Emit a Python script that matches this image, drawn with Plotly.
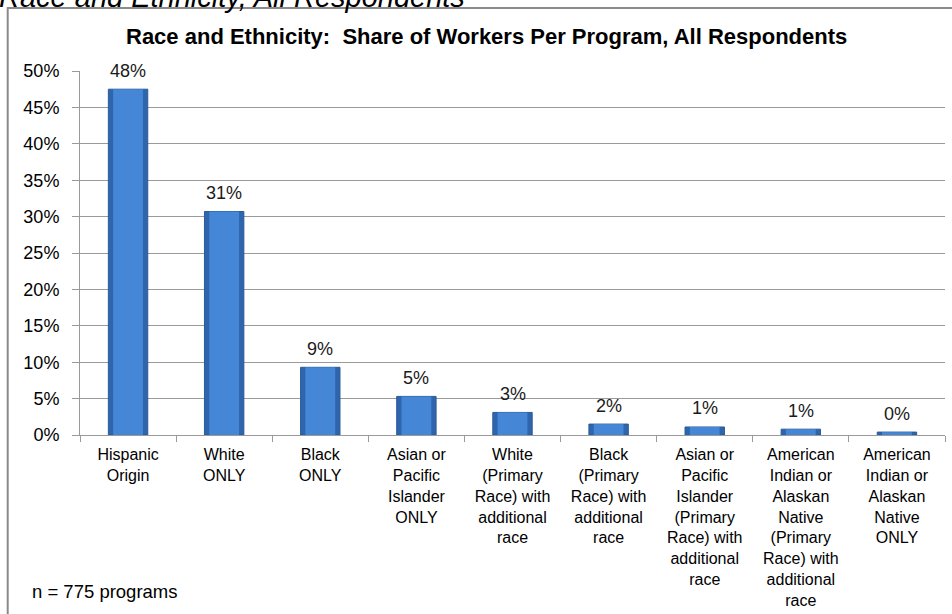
import plotly.graph_objects as go

categories = [
    "Hispanic<br>Origin",
    "White<br>ONLY",
    "Black<br>ONLY",
    "Asian or<br>Pacific<br>Islander<br>ONLY",
    "White<br>(Primary<br>Race) with<br>additional<br>race",
    "Black<br>(Primary<br>Race) with<br>additional<br>race",
    "Asian or<br>Pacific<br>Islander<br>(Primary<br>Race) with<br>additional<br>race",
    "American<br>Indian or<br>Alaskan<br>Native<br>(Primary<br>Race) with<br>additional<br>race",
    "American<br>Indian or<br>Alaskan<br>Native<br>ONLY",
]
share_pct = [47.5, 30.7, 9.3, 5.3, 3.1, 1.5, 1.1, 0.8, 0.4]
y_ticks = [0, 5, 10, 15, 20, 25, 30, 35, 40, 45, 50]

chart_title = "Race and Ethnicity:  Share of Workers Per Program, All Respondents"
page_title = "Race and Ethnicity, All Respondents"
note_text = "n = 775 programs"

FONT = "Liberation Sans, Arial, sans-serif"
GRID = "#9a9a9a"

fig = go.Figure()
# outer (darker edge) bar
fig.add_trace(go.Bar(
    x=categories,
    y=share_pct,
    width=0.41,
    marker=dict(color="#2F65AD", line=dict(color="#2A5A98", width=1)),
    hoverinfo="x+y",
))
# inner (lighter face) bar to suggest the bevelled look
fig.add_trace(go.Bar(
    x=categories,
    y=share_pct,
    width=0.31,
    marker=dict(color="#4586D6", line=dict(width=0)),
    hoverinfo="skip",
))

# data labels
for c, v in zip(categories, share_pct):
    fig.add_annotation(
        x=c, y=v, xref="x", yref="y",
        text=f"{int(v + 0.5)}%",
        showarrow=False, yanchor="middle", yshift=18.5,
        font=dict(family=FONT, size=18, color="#1a1a1a"),
    )

L, R, T, B = 80, 7, 71, 178.5
W, H = 952, 614
pw = W - L - R
ph = H - T - B

def px_x(p):
    return (p - L) / pw

def px_y(p):
    return (H - B - p) / ph

# chart title
fig.add_annotation(
    x=px_x(486), y=px_y(36), xref="paper", yref="paper",
    text=f"<b>{chart_title}</b>", showarrow=False,
    xanchor="center", yanchor="middle",
    font=dict(family=FONT, size=22, color="#000000"),
)
# cut-off page title above the box
fig.add_annotation(
    x=px_x(-3), y=px_y(15), xref="paper", yref="paper",
    text=f"<i>{page_title}</i>", showarrow=False,
    xanchor="left", yanchor="bottom",
    font=dict(family=FONT, size=29, color="#000000"),
)
# note
fig.add_annotation(
    x=px_x(30), y=px_y(592), xref="paper", yref="paper",
    text=note_text, showarrow=False,
    xanchor="left", yanchor="middle",
    font=dict(family=FONT, size=18.5, color="#000000"),
)

# outer chart border (extends beyond the picture on right and bottom)
fig.add_shape(
    type="rect", xref="paper", yref="paper",
    x0=px_x(7.7), x1=px_x(980), y0=px_y(700), y1=px_y(8),
    line=dict(color="#8a8a8a", width=2), fillcolor="rgba(0,0,0,0)",
    layer="below",
)

fig.update_layout(
    width=W, height=H,
    margin=dict(l=L, r=R, t=T, b=B, autoexpand=False),
    paper_bgcolor="white", plot_bgcolor="white",
    showlegend=False,
    barmode="overlay",
    font=dict(family=FONT, color="#000000"),
)
fig.update_xaxes(
    type="category",
    automargin=False,
    showline=True, linecolor=GRID, linewidth=1,
    ticks="outside", ticklen=6, tickcolor=GRID, tickwidth=1,
    tickson="boundaries",
    showgrid=False,
    ticklabelstandoff=5,
    tickfont=dict(family=FONT, size=16, color="#000000"),
    tickangle=0,
)
fig.update_yaxes(
    range=[0, 50],
    automargin=False,
    tickvals=y_ticks,
    ticktext=[f"{t}%" for t in y_ticks],
    showline=True, linecolor=GRID, linewidth=1,
    ticks="outside", ticklen=7, tickcolor=GRID, tickwidth=1,
    showgrid=True, gridcolor=GRID, gridwidth=1,
    zeroline=False,
    ticklabelstandoff=9,
    tickfont=dict(family=FONT, size=18, color="#000000"),
)

fig.write_html("out.html")
